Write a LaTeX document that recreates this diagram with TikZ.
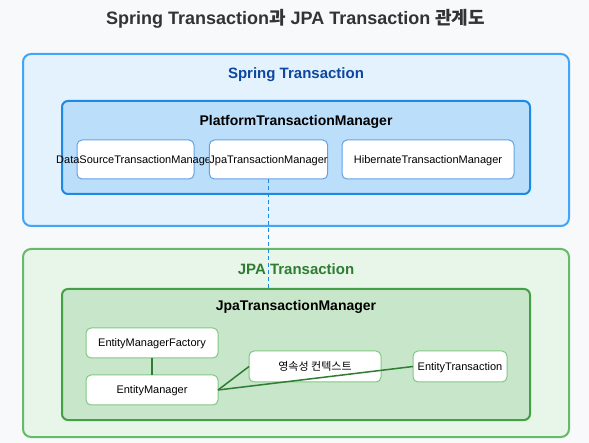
\documentclass[tikz,border=0pt]{standalone}
\usepackage{fontspec}
\setmainfont{Liberation Sans}
\newfontfamily\kr{Noto Sans CJK KR}
\definecolor{bgc}{HTML}{F8F9FA}
\definecolor{titlec}{HTML}{333333}
\definecolor{sfill}{HTML}{E3F2FD}
\definecolor{sdraw}{HTML}{42A5F5}
\definecolor{pfill}{HTML}{BBDEFB}
\definecolor{pdraw}{HTML}{1E88E5}
\definecolor{sbox}{HTML}{64A0E6}
\definecolor{stext}{HTML}{0D47A1}
\definecolor{jfill}{HTML}{E8F5E9}
\definecolor{jdraw}{HTML}{66BB6A}
\definecolor{jifill}{HTML}{C8E6C9}
\definecolor{jidraw}{HTML}{43A047}
\definecolor{jbox}{HTML}{81C784}
\definecolor{jtext}{HTML}{2E7D32}
\definecolor{jline}{HTML}{2E7D32}
\tikzset{
  area/.style={draw, line width=2pt, rounded corners=8pt, inner sep=0pt, outer sep=0pt},
  itembox/.style={draw, fill=white, line width=1pt, rounded corners=5pt, inner sep=0pt, outer sep=0pt,
    font=\fontsize{11}{13}\selectfont, text=black, text height=8pt, text depth=0pt},
  headtext/.style={font=\bfseries\fontsize{15}{18}\selectfont, inner sep=0pt},
  subhead/.style={font=\bfseries\fontsize{14}{17}\selectfont, inner sep=0pt, text=black},
  rel/.style={draw=jline, line width=1.5pt},
}
\begin{document}
\begin{tikzpicture}[x=1pt,y=-1pt]
\useasboundingbox (0,0) rectangle (589,443);
\fill[bgc] (0,0) rectangle (589,443);

\node[font=\bfseries\fontsize{18}{22}\selectfont, text=titlec, inner sep=0pt] (title) at (295.5,19)
  {Spring Transaction{\kr 과} JPA Transaction {\kr 관계도}};

% Spring Transaction
\node[area, draw=sdraw, fill=sfill, minimum width=546pt, minimum height=172pt] (spring) at (296,140) {};
\node[headtext, text=stext] (springlbl) at (296,74.5) {Spring Transaction};
\node[area, draw=pdraw, fill=pfill, rounded corners=6pt, minimum width=468pt, minimum height=93pt] (ptm) at (296,147.5) {};
\node[subhead] (ptmlbl) at (296,121.5) {PlatformTransactionManager};
\node[itembox, draw=sbox, minimum width=117pt, minimum height=39pt,
      label={[font=\fontsize{11}{13}\selectfont, inner sep=0pt, text height=8pt, text depth=0pt]center:DataSourceTransactionManager}] (dstm) at (135.5,159.5) {};
\node[itembox, draw=sbox, minimum width=117pt, minimum height=39pt] (jtm) at (268.5,159.5) {JpaTransactionManager};
\node[itembox, draw=sbox, minimum width=172pt, minimum height=39pt] (htm) at (428,159.5) {HibernateTransactionManager};

% JPA Transaction
\node[area, draw=jdraw, fill=jfill, minimum width=546pt, minimum height=188pt] (jpa) at (296,343) {};
\node[headtext, text=jtext] (jpalbl) at (296,269) {JPA Transaction};
\node[area, draw=jidraw, fill=jifill, rounded corners=6pt, minimum width=468pt, minimum height=131pt] (jpam) at (296,354.5) {};
\node[subhead] (jpamlbl) at (296,307) {JpaTransactionManager};
\node[itembox, draw=jbox, minimum width=132pt, minimum height=30pt] (emf) at (152,343) {EntityManagerFactory};
\node[itembox, draw=jbox, minimum width=132pt, minimum height=30pt] (em) at (152,390) {EntityManager};
\node[itembox, draw=jbox, minimum width=132pt, minimum height=31pt] (pc) at (315,366.5) {\kr 영속성 컨텍스트};
\node[itembox, draw=jbox, minimum width=94pt, minimum height=31pt] (et) at (460,366.5) {EntityTransaction};

% connectors
\draw[draw=pdraw, line width=1.5pt, dash pattern=on 4pt off 3pt] (jtm.south) -- (jtm.south |- jpam.north);
\draw[rel] (emf.south) -- (em.north);
\draw[rel] (em.east) -- (pc.west);
\draw[rel] (em.east) -- (et.west);
\end{tikzpicture}
\end{document}
